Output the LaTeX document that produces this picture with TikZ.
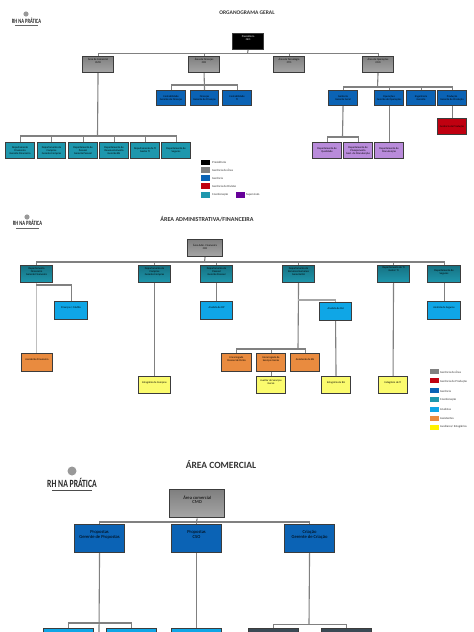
\documentclass[tikz,border=0pt]{standalone}
\usepackage{graphicx}
\usepackage{fontspec}
\setmainfont{Carlito}
\definecolor{cgray}{HTML}{969696}
\definecolor{cblue}{HTML}{0B63B5}
\definecolor{cteal}{HTML}{1E97AD}
\definecolor{cpurple}{HTML}{B98BDB}
\definecolor{cred}{HTML}{C00010}
\definecolor{corange}{HTML}{E98B3F}
\definecolor{cyel}{HTML}{FBFB6E}
\definecolor{caux}{HTML}{0FA6E6}
\definecolor{cdark}{HTML}{3A4A55}
\definecolor{cline}{HTML}{808080}
\definecolor{cedge}{HTML}{3C3C3C}
\tikzset{
 bx/.style={draw=cedge,line width=1.1pt,inner sep=0pt,align=center,font=\fontsize{2.7}{3}\selectfont,text=black,anchor=north west},
 ln/.style={draw=cline,line width=1.1pt},
 lg/.style={inner sep=0pt,anchor=north west,minimum width=9pt,minimum height=5.5pt},
 lt/.style={inner sep=0pt,anchor=west,font=\fontsize{3}{3.5}\selectfont,text=black!80},
 ttl/.style={inner sep=0pt,font=\bfseries\fontsize{5.5}{6}\selectfont,text=black!80},
 logo/.style={inner sep=0pt,font=\bfseries\fontsize{6.5}{6.5}\selectfont,text=black!85},
 ulogo/.style={draw=black!60,line width=.4pt},
 tp/.style={text depth=#1pt},
 tealg/.style={top color=cteal!75!black,bottom color=cteal},
 grayg/.style={top color=cgray!85!black,bottom color=cgray!85!white}
}
\newcommand{\bxx}[7]{\node[bx,fill=#2,minimum width=#5pt-#3pt,minimum height=#6pt-#4pt] (#1) at (#3,#4) {#7};}
\newcommand{\lgtxt}{\scalebox{.7}[1]{RH NA PRÁTICA}}
\begin{document}
\begin{tikzpicture}[x=1pt,y=-1pt]
\useasboundingbox (0,0) rectangle (474,632);
\clip (0,0) rectangle (474,632);
% PAGE 1
\node[ttl] (t1) at (247,13) {ORGANOGRAMA GERAL};
\fill[gray!80] (26,14) circle (2.6);
\node[logo] (l1) at (26.5,21) {\lgtxt};
\draw[ulogo] (15,25) -- (38,25);
\bxx{pr}{black,text=white,tp=7}{232}{33}{263}{49}{Presidência\\CEO}
\bxx{a1}{cgray,grayg,tp=8}{82}{56}{113}{72}{Área de Comercial\\CMO}
\bxx{a2}{cgray,grayg,tp=8}{188}{56}{219}{72}{Área de Finanças\\CFO}
\bxx{a3}{cgray,grayg,tp=8}{273}{56}{304}{72}{Área de Tecnologia\\CTO}
\bxx{a4}{cgray,grayg,tp=8}{362}{56}{393}{72}{Área de Operações\\COO}
\bxx{b1}{cblue}{156}{90}{185}{105}{Contabilidade\\Gerente de Finanças}
\bxx{b2}{cblue}{190}{90}{218}{105}{Finanças\\Gerente de Finanças}
\bxx{b3}{cblue}{222}{90}{251}{105}{Contabilidade\\TI}
\bxx{b4}{cblue}{328}{90}{357}{105}{Gerência\\Gerente Geral}
\bxx{b5}{cblue}{374}{90}{403}{105}{Operações\\Gerente de Operações}
\bxx{b6}{cblue}{406}{90}{435}{105}{Engenharia\\Gerente}
\bxx{b7}{cblue}{437}{90}{466}{105}{Produção\\Gerente de Produção}
\bxx{r1}{cred}{437}{118}{466}{134}{Gerência de Produção}
\bxx{c1}{cteal}{5}{142}{34}{158}{Departamento\\Financeiro\\Gerente Financeiro}
\bxx{c2}{cteal}{37}{142}{65}{158}{Departamento de\\Compras\\Gerente Compras}
\bxx{c3}{cteal}{68}{142}{97}{158}{Departamento de\\Pessoal\\Gerente Pessoal}
\bxx{c4}{cteal}{99}{142}{128}{158}{Departamento de\\Desenvolvimento\\Gerente RH}
\bxx{c5}{cteal}{130}{142}{159}{158}{Departamento de TI\\Gestor TI}
\bxx{c6}{cteal}{161}{142}{190}{158}{Departamento de\\Seguros}
\bxx{s1}{cpurple}{312}{142}{341}{158}{Departamento de\\Qualidade}
\bxx{s2}{cpurple}{343}{142}{372}{158}{Departamento de\\Planejamento\\Gest. de Manutenção}
\bxx{s3}{cpurple}{374}{142}{403}{158}{Departamento de\\Manutenção}
\coordinate (j1) at (247.5,53.5);
\draw[ln] (pr.south) -- (j1);
\draw[ln] (a1.north) |- (j1) -| (a4.north);
\draw[ln] (a2.north) -- (a2.north|-j1);
\draw[ln] (a3.north) -- (a3.north|-j1);
\coordinate (j2) at (203.5,85);
\draw[ln] (a2.south) -- (b2.north);
\draw[ln] (b1.north) |- (j2) -| (b3.north);
\coordinate (j3) at (377.5,87);
\draw[ln] (a4.south) -- (j3);
\draw[ln] (b4.north) |- (j3) -| (b7.north);
\draw[ln] (b5.north) -- (b5.north|-j3);
\draw[ln] (b6.north) -- (b6.north|-j3);
\draw[ln] (b7.south) -- (r1.north);
\coordinate (j4) at (97.5,136);
\draw[ln] (a1.south) -- (j4);
\draw[ln] (c1.north) |- (j4) -| (c6.north);
\foreach \n in {c2,c3,c4,c5}{\draw[ln] (\n.north) -- (\n.north|-j4);}
\coordinate (j5) at (342.5,137);
\draw[ln] (b4.south) -- (j5);
\draw[ln] (s1.north) |- (j5) -| (s2.north);
\draw[ln] (b5.south) -- (s3.north);
% legend 1
\node[lg,fill=black] (k1) at (201,159.5) {}; \node[lt] (kt1) at (212,162) {Presidência};
\node[lg,fill=gray] (k2) at (201,167) {}; \node[lt] (kt2) at (212,170) {Gerência de Área};
\node[lg,fill=cblue] (k3) at (201,175) {}; \node[lt] (kt3) at (212,178) {Gerência};
\node[lg,fill=cred] (k4) at (201,183) {}; \node[lt] (kt4) at (212,186) {Gerência de Divisão};
\node[lg,fill=cteal] (k5) at (201,192) {}; \node[lt] (kt5) at (212,194.5) {Coordenação};
\node[lg,fill=violet!80!blue] (k6) at (236,192) {}; \node[lt] (kt6) at (246,194.5) {Supervisão};
% PAGE 2
\node[ttl,font=\bfseries\fontsize{6.1}{6.5}\selectfont] (t2) at (207,219) {ÁREA ADMINISTRATIVA/FINANCEIRA};
\fill[gray!80] (27,217) circle (2.6);
\node[logo] (l2) at (27.5,223) {\lgtxt};
\draw[ulogo] (16,228) -- (39,228);
\bxx{d0}{cgray,grayg,tp=3}{187}{239}{222}{256}{Área Adm. Financeira\\CFO}
\bxx{d1}{cteal,tealg,tp=5}{20}{265}{52}{282}{Departamento\\Financeiro\\Gerente Financeiro}
\bxx{d2}{cteal,tealg,tp=5}{138}{265}{170}{282}{Departamento de\\Compras\\Gerente Compras}
\bxx{d3}{cteal,tealg,tp=5}{200}{265}{232}{282}{Departamento de\\Pessoal\\Gerente Pessoal}
\bxx{d4}{cteal,tealg,tp=5}{282}{265}{314}{282}{Departamento de\\Recursos Humanos\\Gerente RH}
\bxx{d5}{cteal,tealg,tp=10}{377}{265}{409}{282}{Departamento de TI\\Gestor TI}
\bxx{d6}{cteal,tealg,tp=3}{427}{265}{460}{282}{Departamento de\\Seguros}
\bxx{e1}{caux,tp=6}{54}{301}{87}{319}{Finanças / Crédito}
\bxx{e3}{caux,tp=6}{200}{301}{232}{319}{Analista de DP}
\bxx{e4}{caux,tp=6}{319}{302}{351}{320}{Analista de RH}
\bxx{e6}{caux,tp=6}{427}{301}{460}{319}{Analista de Seguros}
\bxx{o1}{corange,tp=6}{21}{353}{52}{371}{Assistente Financeiro}
\bxx{o2}{corange,tp=6}{221}{353}{251}{371}{Encarregado\\Pessoal de Ponto}
\bxx{o3}{corange,tp=6}{256}{353}{285}{371}{Encarregado de\\Serviços Gerais}
\bxx{o4}{corange,tp=6}{290}{353}{319}{371}{Assistente de RH}
\bxx{y2}{cyel,tp=5}{138}{376}{170}{393}{Estagiário de Compras}
\bxx{y3}{cyel,tp=5}{256}{376}{285}{393}{Auxiliar de Serviços\\Gerais}
\bxx{y4}{cyel,tp=5}{321}{376}{350}{393}{Estagiário de RH}
\bxx{y5}{cyel,tp=5}{378}{376}{407}{393}{Estagiário de TI}
\coordinate (j6) at (204.5,262);
\draw[ln] (d0.south) -- (j6);
\draw[ln] (d1.north) |- (j6) -| (d6.north);
\foreach \n in {d2,d3,d4,d5}{\draw[ln] (\n.north) -- (\n.north|-j6);}
\draw[ln,draw=gray!50] (d1.south) -- (d1.south|-o1.north);
\coordinate (j7) at (36,285);
\draw[ln] (j7) -| (e1.north);
\draw[ln] (d2.south) -- (y2.north);
\draw[ln] (d3.south) -- (e3.north);
\coordinate (j8) at (298,300);
\coordinate (j9) at (298,349);
\draw[ln] (d4.south) -- (j9);
\draw[ln,draw=gray!70] (j8) -| (e4.north);
\draw[ln] (o2.north) |- (j9) -| (o4.north);
\draw[ln] (o3.north) -- (o3.north|-j9);
\draw[ln] (o3.south) -- (y3.north);
\draw[ln] (e4.south) -- (y4.north);
\draw[ln] (d5.south) -- (y5.north);
\draw[ln] (d6.south) -- (e6.north);
% legend 2
\node[lg,minimum height=5pt,fill=gray] (m1) at (430,369) {}; \node[lt] (mt1) at (440,372) {Gerência de Área};
\node[lg,minimum height=5pt,fill=cred] (m2) at (430,378) {}; \node[lt] (mt2) at (440,381.5) {Gerência de Produção};
\node[lg,minimum height=5pt,fill=cblue] (m3) at (430,388) {}; \node[lt] (mt3) at (440,391) {Gerência};
\node[lg,minimum height=5pt,fill=cteal] (m4) at (430,397) {}; \node[lt] (mt4) at (440,400) {Coordenação};
\node[lg,minimum height=5pt,fill=caux] (m5) at (430,406.5) {}; \node[lt] (mt5) at (440,409) {Analistas};
\node[lg,minimum height=5pt,fill=corange] (m6) at (430,415.5) {}; \node[lt] (mt6) at (440,418) {Assistentes};
\node[lg,minimum height=5pt,fill=yellow] (m7) at (430,424.5) {}; \node[lt] (mt7) at (440,427) {Auxiliares/ Estagiários};
% PAGE 3
\node[ttl,font=\bfseries\fontsize{9.5}{10}\selectfont] (t3) at (221,465) {ÁREA COMERCIAL};
\fill[gray!80] (72,471) circle (4.5);
\node[logo,font=\bfseries\fontsize{11}{11}\selectfont] (l3) at (72,482.5) {\lgtxt};
\draw[black!70,line width=.8pt] (52,490) -- (92,490);
\tikzset{big/.style={font=\fontsize{4.6}{4.6}\selectfont,tp=8}}
\node[bx,big,fill=cgray,grayg,line width=1.4pt,minimum width=55pt,minimum height=28pt] (f0) at (169,489) {Área comercial\\CMO};
\node[bx,big,fill=cblue,minimum width=50pt,minimum height=28pt] (f1) at (74,524) {Propostas\\Gerente de Propostas};
\node[bx,big,fill=cblue,minimum width=50pt,minimum height=28pt] (f2) at (171,524) {Propostas\\CSO};
\node[bx,big,fill=cblue,minimum width=50pt,minimum height=28pt] (f3) at (284,524) {Criação\\Gerente de Criação};
\node[bx,fill=caux,minimum width=50pt,minimum height=20pt] (g1) at (43,628) {};
\node[bx,fill=caux,minimum width=50pt,minimum height=20pt] (g2) at (106,628) {};
\node[bx,fill=caux,minimum width=50pt,minimum height=20pt] (g3) at (171,628) {};
\node[bx,fill=cdark,minimum width=50pt,minimum height=20pt] (g4) at (248,628) {};
\node[bx,fill=cdark,minimum width=50pt,minimum height=20pt] (g5) at (321,628) {};
\coordinate (j10) at (196.5,522);
\draw[ln] (f0.south) -- (j10);
\draw[ln] (f1.north) |- (j10) -| (f3.north);
\draw[ln] (f2.north) -- (f2.north|-j10);
\coordinate (j11) at (99,623);
\coordinate (j12) at (309,624.5);
\draw[ln] (f1.south) -- (99,632);
\draw[ln] (g1.north) |- (j11) -| (g2.north);
\draw[ln] (f2.south) -- (g3.north);
\draw[ln] (f3.south) -- (j12);
\draw[ln] (g4.north) |- (j12) -| (g5.north);
\end{tikzpicture}
\end{document}
